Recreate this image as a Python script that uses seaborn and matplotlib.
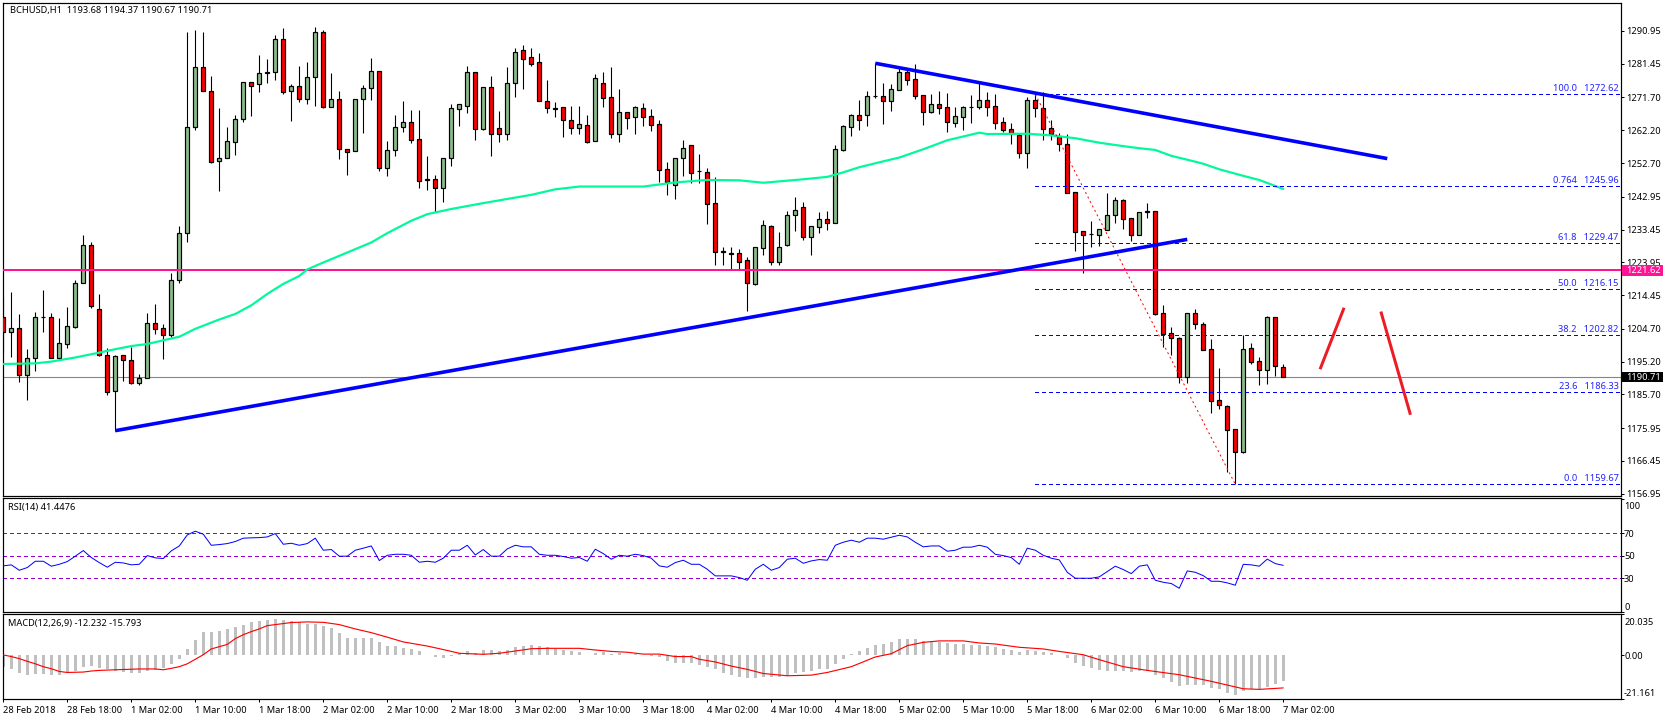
import numpy as np
import pandas as pd
import seaborn as sns
import matplotlib.pyplot as plt
import matplotlib.transforms as mtransforms
from matplotlib.patches import Rectangle

# ================================
# Data (BCHUSD H1)
# ================================
opens = [1208.0,1203.9,1204.8,1191.4,1196.2,1208.0,1208.0,1196.3,1200.4,1205.2,
         1217.9,1228.9,1210.4,1197.0,1186.8,1197.0,1195.6,1189.1,1190.4,1206.3,
         1204.8,1203.0,1218.7,1232.4,1263.0,1280.4,1273.5,1253.4,1254.3,1258.7,
         1265.4,1276.1,1275.5,1278.7,1279.0,1288.5,1273.5,1274.9,1271.2,1277.5,
         1290.6,1269.0,1271.2,1256.7,1256.1,1271.2,1274.3,1279.3,1251.2,1256.4,
         1263.0,1264.5,1259.6,1247.8,1248.0,1245.6,1254.1,1268.5,1269.1,1279.0,
         1262.7,1274.6,1262.8,1261.2,1275.8,1285.3,1283.3,1281.9,1270.6,1268.4,
         1268.8,1265.1,1262.9,1263.6,1259.2,1275.8,1271.7,1261.2,1267.4,1266.1,
         1268.6,1266.2,1263.9,1250.9,1246.4,1254.3,1257.8,1250.3,1250.0,1241.0,
         1227.0,1226.4,1226.6,1224.5,1217.8,1228.2,1234.4,1224.1,1229.1,1237.7,
         1239.9,1231.4,1234.3,1236.4,1235.2,1256.6,1263.2,1266.5,1266.7,1272.0,
         1272.0,1270.8,1273.9,1279.0,1277.0,1272.3,1267.5,1269.7,1268.8,1264.4,
         1266.1,1268.9,1269.0,1270.9,1269.1,1264.5,1262.5,1260.9,1255.7,1270.9,
         1268.6,1262.8,1260.5,1258.1,1244.2,1232.9,1232.1,1232.0,1233.4,1237.7,
         1241.9,1236.7,1232.0,1238.6,1238.7,1209.2,1203.4,1201.9,1190.6,1209.2,
         1206.0,1198.8,1184.0,1182.2,1175.6,1169.1,1199.0,1195.3,1192.9,1208.1,
         1193.68]
highs = [1214.0,1215.4,1209.0,1198.9,1209.6,1215.9,1209.2,1207.8,1211.0,1218.8,
         1231.9,1229.8,1214.8,1199.1,1197.0,1197.0,1199.5,1191.6,1209.2,1211.9,
         1206.1,1220.9,1234.5,1290.7,1291.2,1290.7,1277.9,1268.6,1263.1,1266.5,
         1276.1,1276.1,1284.0,1282.7,1289.8,1291.8,1275.6,1280.8,1281.9,1292.0,
         1291.2,1278.7,1273.5,1256.7,1271.2,1275.3,1283.1,1279.3,1259.1,1266.5,
         1270.7,1268.1,1268.1,1254.7,1249.1,1254.1,1269.8,1269.7,1280.8,1279.0,
         1274.6,1277.9,1267.8,1280.5,1285.9,1286.9,1285.9,1284.6,1276.8,1270.4,
         1268.8,1269.2,1269.2,1266.6,1278.5,1279.1,1280.5,1274.1,1267.4,1269.2,
         1270.1,1268.4,1265.2,1253.0,1254.3,1259.4,1257.8,1255.3,1251.2,1248.7,
         1228.4,1228.4,1227.7,1225.4,1228.3,1236.2,1234.7,1232.7,1238.7,1242.9,
         1241.4,1234.4,1238.5,1238.7,1257.9,1263.7,1266.8,1271.0,1273.5,1281.8,
         1275.9,1275.6,1280.1,1279.7,1281.4,1272.3,1272.7,1273.6,1273.0,1268.9,
         1269.2,1272.4,1275.8,1273.3,1272.7,1265.9,1264.3,1261.3,1271.8,1272.62,
         1273.2,1265.2,1261.4,1261.1,1244.2,1232.9,1235.9,1233.5,1243.9,1242.9,
         1242.2,1236.7,1238.4,1241.0,1238.7,1211.6,1205.2,1202.2,1209.2,1210.4,
         1206.6,1201.7,1193.4,1182.6,1175.6,1202.8,1200.6,1196.5,1208.4,1208.1,
         1194.37]
lows = [1197.8,1196.6,1189.3,1184.1,1192.6,1203.9,1196.3,1196.3,1199.2,1205.0,
        1217.9,1210.8,1196.8,1185.6,1175.2,1189.7,1188.8,1188.5,1190.4,1203.3,
        1196.1,1202.4,1218.1,1229.8,1262.4,1273.5,1252.8,1244.7,1254.3,1255.1,
        1264.7,1266.4,1273.4,1276.0,1276.9,1272.8,1265.0,1270.5,1269.9,1269.3,
        1268.7,1269.0,1254.0,1249.3,1256.1,1261.5,1271.1,1250.5,1249.0,1254.8,
        1261.8,1258.6,1245.6,1244.9,1238.6,1241.4,1251.8,1263.4,1267.3,1259.4,
        1262.4,1254.7,1258.8,1259.4,1271.9,1274.1,1280.9,1270.6,1267.2,1266.0,
        1260.2,1261.1,1261.1,1258.5,1259.2,1268.9,1260.1,1258.9,1262.6,1261.1,
        1263.4,1262.0,1247.2,1243.4,1242.3,1248.9,1247.0,1247.0,1235.1,1223.2,
        1223.2,1221.7,1221.7,1209.9,1217.5,1226.1,1223.2,1223.2,1228.8,1233.0,
        1230.4,1226.1,1232.5,1233.3,1235.2,1256.3,1260.5,1262.3,1263.4,1271.5,
        1264.0,1267.8,1273.9,1275.3,1271.3,1263.7,1267.1,1266.9,1261.7,1263.1,
        1262.3,1264.3,1268.4,1266.3,1262.6,1261.7,1258.2,1254.2,1251.3,1265.9,
        1259.4,1259.4,1256.2,1244.1,1227.2,1220.9,1228.5,1228.7,1233.2,1235.3,
        1233.6,1230.1,1232.0,1236.8,1208.8,1199.5,1197.2,1188.9,1189.1,1204.6,
        1198.7,1180.3,1181.5,1163.1,1159.67,1168.8,1194.6,1188.4,1188.8,1191.1,
        1190.67]
closes = [1203.9,1204.8,1191.4,1196.2,1208.0,1208.0,1196.3,1200.5,1205.4,1217.9,
          1228.9,1211.4,1197.0,1186.5,1196.7,1195.6,1189.1,1190.4,1206.3,1204.7,
          1203.0,1218.7,1232.4,1263.0,1280.4,1273.5,1253.1,1254.3,1259.0,1265.4,
          1276.1,1275.1,1278.7,1279.0,1288.5,1273.2,1274.9,1271.2,1277.5,1290.6,
          1269.0,1271.2,1256.7,1256.0,1271.2,1274.3,1279.3,1251.2,1256.4,1263.0,
          1264.5,1259.5,1247.6,1247.7,1245.6,1254.1,1268.6,1269.7,1279.0,1262.7,
          1274.6,1261.2,1261.2,1275.8,1284.8,1282.7,1281.5,1270.6,1268.7,1268.3,
          1265.3,1262.9,1263.9,1258.9,1277.2,1271.6,1261.2,1267.4,1265.8,1268.8,
          1266.1,1263.8,1250.8,1247.3,1254.3,1257.2,1249.9,1250.2,1240.9,1227.0,
          1226.9,1226.3,1224.1,1218.1,1228.3,1234.7,1224.1,1228.3,1237.8,1239.0,
          1231.4,1234.4,1236.4,1235.2,1256.9,1263.3,1266.5,1265.3,1272.0,1271.9,
          1270.8,1274.1,1279.0,1276.9,1272.2,1267.6,1269.7,1268.7,1264.5,1266.2,
          1268.8,1268.8,1270.9,1269.0,1264.4,1262.3,1261.3,1255.7,1270.9,1268.6,
          1262.7,1261.2,1258.2,1244.1,1232.8,1232.0,1232.0,1233.5,1237.8,1241.9,
          1236.6,1232.0,1238.4,1238.5,1209.1,1203.3,1201.9,1190.6,1209.2,1206.0,
          1198.7,1183.9,1182.5,1175.5,1169.1,1198.8,1195.2,1192.9,1208.1,1193.8,
          1190.71]

ma_bars = [0,4,6,9,12,14,16,18,21,22,24,27,29,31,33,35,37,38,40,43,46,48,51,53,56,
           60,63,66,69,72,80,84,88,92,95,98,100,103,105,107,110,112,115,118,120,122,
           123,128,131,134,137,140,142,144,146,149,150,152,155,157,160]
ma_values = [1194.5,1194.7,1195.2,1196.4,1197.8,1198.8,1199.7,1200.3,1201.9,1202.4,1204.7,
             1207.4,1209.0,1211.5,1214.8,1217.7,1220.0,1221.9,1223.9,1226.8,1229.7,1232.4,
             1236.0,1237.9,1239.4,1241.1,1242.3,1243.5,1245.1,1245.9,1245.9,1247.1,1247.8,
             1247.7,1247.0,1247.6,1248.0,1248.7,1250.0,1251.5,1253.2,1254.3,1256.7,1259.3,
             1260.4,1261.5,1261.1,1261.2,1260.7,1259.9,1258.6,1257.6,1257.0,1256.5,1254.8,
             1253.1,1252.5,1250.9,1249.0,1247.8,1245.2]

rsi = [41.0,41.9,37.1,39.5,45.1,45.1,40.7,42.4,44.8,49.6,
       54.6,48.4,43.9,39.8,44.2,43.6,41.9,42.4,50.1,48.1,
       47.5,54.3,58.7,68.5,71.8,69.1,59.3,59.9,60.8,62.6,
       65.6,65.9,66.1,66.7,69.7,60.2,61.1,59.3,60.8,65.6,
       54.9,55.5,49.6,49.6,54.9,56.7,58.7,45.7,50.4,51.3,
       51.3,50.4,44.2,45.1,44.2,47.8,54.9,54.9,59.3,50.7,
       55.5,49.6,49.6,56.1,59.3,57.9,57.9,51.3,50.4,50.4,
       49.3,47.8,48.4,45.1,55.8,51.9,46.9,50.4,49.6,51.3,
       50.1,47.8,41.0,39.8,43.9,46.0,42.4,42.4,38.0,32.1,
       32.1,32.1,30.6,28.2,38.0,42.4,37.1,39.5,46.9,47.8,
       43.3,45.4,46.6,46.0,59.3,62.0,63.8,62.0,65.6,65.6,
       64.7,66.4,68.2,66.7,62.0,57.9,58.7,58.7,54.0,54.9,
       57.6,57.6,59.3,57.6,51.3,50.1,48.4,42.4,56.7,54.9,
       50.4,47.8,46.3,35.3,30.0,30.0,30.0,31.2,35.9,40.7,
       37.7,34.1,40.7,41.9,28.2,26.4,25.3,21.1,36.5,35.3,
       32.3,27.3,27.3,25.9,23.8,42.4,41.9,40.7,47.0,43.0,
       41.45]

macd_hist = [-5.5,-6.5,-8.6,-9.4,-8.9,-8.9,-9.4,-9.4,-8.1,-7.5,
             -5.5,-5.0,-6.2,-6.5,-7.5,-8.0,-8.4,-8.4,-7.5,-7.1,
             -6.2,-4.1,-1.6,3.2,7.6,11.2,11.5,12.0,12.6,13.5,
             14.9,16.0,16.5,17.2,17.8,16.9,16.5,16.2,15.4,15.4,
             14.1,13.1,10.7,8.6,8.6,8.3,8.6,6.3,4.7,4.4,
             3.7,3.2,1.9,0.3,-0.8,-1.3,-0.5,1.1,2.3,1.1,
             2.6,2.6,1.9,2.6,3.9,4.7,5.2,4.5,4.1,3.2,
             2.8,1.9,1.5,0.2,1.1,1.5,0.8,1.0,0.2,0.5,
             0.3,-0.3,-1.0,-2.9,-3.6,-3.6,-3.9,-4.5,-5.5,-6.5,
             -8.4,-9.4,-10.4,-11.2,-11.2,-10.7,-10.4,-10.4,-10.0,-8.6,
             -8.1,-7.5,-6.5,-6.5,-4.1,-1.6,0.6,2.3,3.7,5.2,
             5.7,6.6,7.8,8.1,7.8,7.1,6.6,6.5,6.2,5.7,
             5.5,5.2,5.2,4.7,4.2,3.2,2.8,1.8,2.4,2.3,
             1.8,1.3,0.3,-1.3,-3.6,-5.2,-6.2,-7.1,-7.5,-7.5,
             -7.5,-8.0,-7.5,-7.5,-9.4,-11.0,-12.8,-14.7,-14.3,-14.3,
             -14.3,-15.6,-16.2,-18.2,-19.1,-17.2,-16.2,-16.2,-15.5,-14.0,
             -12.23]

signal_bars = [0,1,2,3,4,5,6,7,8,10,11,12,14,17,19,20,21,22,23,24,25,26,28,29,30,31,32,33,
               35,36,38,40,42,44,46,48,50,53,55,57,60,62,64,66,68,72,74,76,78,80,82,84,86,
               87,89,91,93,95,98,101,103,106,109,111,113,115,117,120,122,124,127,130,132,
               135,137,140,143,147,151,155,157,160]
signal_values = [0.2,-0.6,-1.6,-2.9,-4.1,-5.5,-6.5,-7.8,-8.3,-8.1,-7.6,-7.3,-7.0,-6.6,-6.6,
                 -7.0,-6.3,-5.5,-4.1,-1.9,0.3,3.1,5.3,8.1,10.0,11.5,12.8,14.4,15.4,15.9,16.2,
                 16.0,14.9,12.8,11.0,8.8,6.5,4.5,2.8,1.0,0.5,1.0,2.1,3.2,3.4,3.4,2.6,1.9,1.5,
                 0.6,0.6,-0.6,-0.6,-1.9,-3.2,-5.2,-6.8,-8.8,-9.9,-9.6,-8.3,-5.5,-0.8,0.8,4.7,
                 6.3,7.0,7.0,6.0,5.5,3.9,3.1,1.9,0.3,-2.1,-5.5,-7.3,-9.4,-12.6,-16.2,-16.5,-15.79]

price_ticks = [1290.95,1281.45,1271.70,1262.20,1252.70,1242.95,1233.45,1223.95,
               1214.45,1204.70,1195.20,1185.70,1175.95,1166.45,1156.95]
rsi_levels = [70, 50, 30]
macd_ticks = [20.035, 0.0, -21.161]
macd_tick_labels = ["20.035", "0.00", "-21.161"]
time_labels = ["28 Feb 2018","28 Feb 18:00","1 Mar 02:00","1 Mar 10:00","1 Mar 18:00",
               "2 Mar 02:00","2 Mar 10:00","2 Mar 18:00","3 Mar 02:00","3 Mar 10:00",
               "3 Mar 18:00","4 Mar 02:00","4 Mar 10:00","4 Mar 18:00","5 Mar 02:00",
               "5 Mar 10:00","5 Mar 18:00","6 Mar 02:00","6 Mar 10:00","6 Mar 18:00",
               "7 Mar 02:00"]

fib_names = ["100.0","0.764","61.8","50.0","38.2","23.6","0.0"]
fib_prices = [1272.62,1245.96,1229.47,1216.15,1202.82,1186.33,1159.67]
fib_start, fib_end = 129, 154
support_price, last_price = 1221.62, 1190.71

rising_line = ([14, 148], [1175.2, 1230.6])
falling_line = ([109, 173], [1281.6, 1254.0])
arrow_up = ([164.6, 167.6], [1193.0, 1210.8])
arrow_down = ([172.2, 175.9], [1209.7, 1179.8])

df = pd.DataFrame({"open": opens, "high": highs, "low": lows, "close": closes,
                   "rsi": rsi, "hist": macd_hist})
df["bar"] = np.arange(len(df))

# ================================
# Figure and panels
# ================================
sns.set_theme(style="white")
plt.rcParams["font.family"] = ["Noto Sans", "DejaVu Sans"]

W, H = 1663, 720
PX = 0.72  # one pixel in points at dpi 100
LEFT, RIGHT = 2.5, 1620.7
XLIM = (-0.1, 202.18)
TXT = 6.7
GREEN, RED, BLUE = "#8DB98B", "#FF0000", "#0000FF"


def panel(top, bottom, pad):
    ax = fig.add_axes([LEFT / W, 1 - bottom / H, (RIGHT - LEFT) / W, (bottom - top) / H])
    for s in ax.spines.values():
        s.set_linewidth(1.2 * PX)
        s.set_color("black")
    ax.set_xlim(*XLIM)
    ax.yaxis.tick_right()
    ax.tick_params(axis="y", length=2, width=PX, pad=pad, labelsize=TXT, colors="black", right=True)
    ax.set_xticks([])
    return ax


def shift_label(label, px):
    label.set_transform(label.get_transform()
                        + mtransforms.ScaledTranslation(0, px / 100, fig.dpi_scale_trans))


fig = plt.figure(figsize=(W / 100, H / 100), dpi=100, facecolor="white")
ax_main = panel(2.5, 496, 2)
ax_rsi = panel(498, 612, 0.4)
ax_macd = panel(614, 699, 0.4)

# ================================
# Candles, moving average, drawings
# ================================
ax = ax_main
colors = np.where(df["close"] >= df["open"], GREEN, RED)
ax.vlines(df["bar"], df["low"], df["high"], color="black", linewidth=PX * 1.1, zorder=3)
ax.bar(df["bar"], (df["close"] - df["open"]).where(lambda s: s.abs() > 0.15, 0.15),
       bottom=df["open"], width=0.45, color=colors, edgecolor="black", linewidth=PX * 1.2, zorder=4)

ax.axhline(last_price, color="#778899", linewidth=PX * 1.1, zorder=2)
ax.axhline(support_price, color="#FF1493", linewidth=PX * 2, zorder=5)

sns.lineplot(x=ma_bars, y=ma_values, ax=ax, color="#00FA9A", linewidth=PX * 2.2, zorder=5)

for name, price in zip(fib_names, fib_prices):
    ax.plot([fib_start, XLIM[1]], [price, price], color=BLUE, linewidth=PX,
            dashes=(3, 3), antialiased=False, zorder=5)
    ax.annotate(f"{name}   {price:.2f}", xy=(1, price), xycoords=("axes fraction", "data"),
                xytext=(-1.5, 0.8), textcoords="offset points", ha="right", va="bottom",
                fontsize=TXT, color="#2222FF", zorder=6)
ax.plot([fib_start, fib_end], [fib_prices[0], fib_prices[-1]], color=RED, linewidth=PX,
        dashes=(2, 3), zorder=6)

for line in (rising_line, falling_line):
    ax.plot(line[0], line[1], color=BLUE, linewidth=PX * 3.6, solid_capstyle="butt", zorder=6)
for line in (arrow_up, arrow_down):
    ax.plot(line[0], line[1], color="#ED1C24", linewidth=PX * 3, solid_capstyle="butt", zorder=6)

ax.set_yticks(price_ticks)
ax.set_yticklabels([f"{t:.2f}" for t in price_ticks])
ax.set_ylim(1156.28, 1299.2)
ax.set_xlim(*XLIM)
ax.set_xlabel("")
ax.set_ylabel("")

# price tags right of the axis
tag_trans = mtransforms.blended_transform_factory(ax.transAxes, ax.transData)
for price, bg in ((support_price, "#FF1493"), (last_price, "black")):
    ax.add_patch(Rectangle((1 + 1.5 / 1618, price - 1.5), 42 / 1618, 3.0, transform=tag_trans,
                           facecolor=bg, edgecolor="none", clip_on=False, zorder=9))
    ax.annotate(f"{price:.2f}", xy=(1, price), xycoords=("axes fraction", "data"),
                xytext=(4.2, 0), textcoords="offset points", va="center", ha="left",
                fontsize=TXT, color="white", annotation_clip=False, zorder=10)

ax.text(7 / (RIGHT - LEFT), 1 - 8.2 / 493.5, "BCHUSD,H1  1193.68 1194.37 1190.67 1190.71",
        transform=ax.transAxes, fontsize=TXT, color="black", ha="left", va="center")

# ================================
# RSI
# ================================
ax = ax_rsi
for level in rsi_levels:
    ax.axhline(level, color="#9400D3", linewidth=PX, dashes=(3, 3), antialiased=False, zorder=1)
sns.lineplot(x="bar", y="rsi", data=df, ax=ax, color=BLUE, linewidth=PX, zorder=3)
ax.set_ylim(0, 101.3)
ax.set_xlim(*XLIM)
ax.set_xticks([])
ax.set_xlabel("")
ax.set_ylabel("")
ax.set_yticks([100] + rsi_levels + [0])
ax.set_yticklabels(["100", "70", "50", "30", "0"])
labels = ax.get_yticklabels()
shift_label(labels[0], -6)
shift_label(labels[-1], 6)
ax.text(5 / (RIGHT - LEFT), 1 - 9.7 / 114, "RSI(14) 41.4476", transform=ax.transAxes,
        fontsize=TXT, color="black", ha="left", va="center")

# ================================
# MACD
# ================================
ax = ax_macd
sns.barplot(x="bar", y="hist", data=df, ax=ax, native_scale=True, width=0.42,
            color="#C0C0C0", saturation=1, errorbar=None, linewidth=0, antialiased=False, zorder=1)
sns.lineplot(x=signal_bars, y=signal_values, ax=ax, color=RED, linewidth=PX * 1.15, zorder=3)
ax.set_ylim(-21.161, 20.035)
ax.set_xlim(*XLIM)
ax.set_xlabel("")
ax.set_ylabel("")
ax.set_yticks(macd_ticks)
ax.set_yticklabels(macd_tick_labels)
labels = ax.get_yticklabels()
shift_label(labels[0], -7.5)
shift_label(labels[-1], 6)
ax.text(6 / (RIGHT - LEFT), 1 - 9.3 / 85, "MACD(12,26,9) -12.232 -15.793", transform=ax.transAxes,
        fontsize=TXT, color="black", ha="left", va="center")

ax.set_xticks(np.arange(len(time_labels)) * 8)
ax.set_xticklabels(time_labels, ha="left")
ax.tick_params(axis="x", length=2.2, width=PX, pad=2.8, labelsize=TXT, colors="black", bottom=True)

fig.savefig("out.png", dpi=100, facecolor="white")
